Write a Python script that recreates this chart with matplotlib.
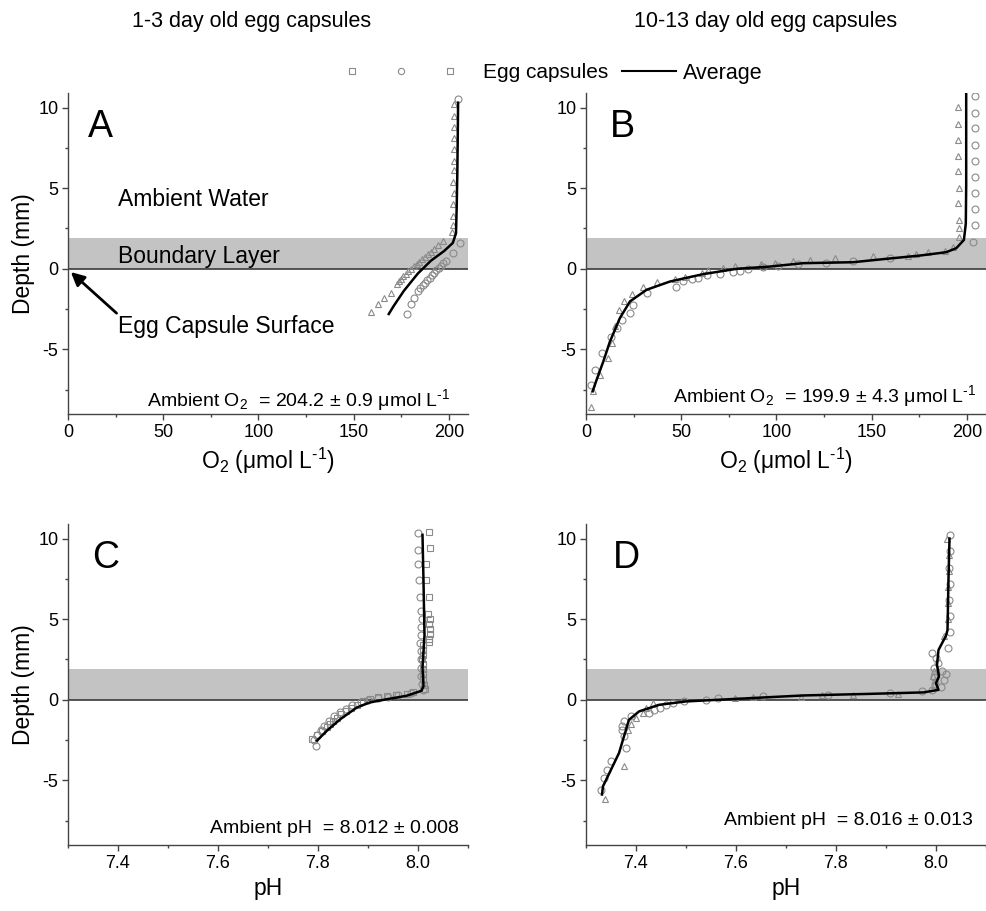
import matplotlib
matplotlib.use("Agg")
import matplotlib.pyplot as plt
from matplotlib.lines import Line2D
from matplotlib.legend_handler import HandlerTuple
from matplotlib.ticker import MultipleLocator

plt.rcParams["font.family"] = ["Liberation Sans", "DejaVu Sans"]
plt.rcParams["mathtext.fontset"] = "custom"
plt.rcParams["mathtext.rm"] = "Liberation Sans"
plt.rcParams["mathtext.it"] = "Liberation Sans:italic"
plt.rcParams["axes.unicode_minus"] = False

# ---- A: O2, 1-3 day old ----
a_tri_depth = [10.2, 9.5, 8.8, 8.1, 7.4, 6.7, 6.1, 5.4, 4.7, 4.0, 3.3, 2.7, 2.3,
               1.75, 1.45, 1.2, 1.05, 0.9, 0.75, 0.6, 0.45, 0.3, 0.15, 0.0, -0.15,
               -0.3, -0.45, -0.6, -0.75, -0.95, -1.5, -1.8, -2.2, -2.7]
a_tri_o2 = [202.8, 202.6, 202.7, 202.5, 202.6, 202.4, 202.5, 202.3, 202.4, 202.2, 202.3, 202.0, 201.6,
            197.0, 194.0, 192.0, 190.5, 189.0, 187.5, 186.0, 184.5, 183.0, 181.5, 180.0, 178.6,
            177.2, 176.0, 174.8, 173.8, 172.8, 169.5, 166.0, 162.6, 159.0]
a_cir_depth = [10.5, 1.6, 1.0, 0.5, 0.35, 0.2, 0.05, -0.1, -0.25, -0.4, -0.55, -0.7, -0.85,
               -1.0, -1.2, -1.37, -1.8, -2.2, -2.8]
a_cir_o2 = [205.0, 205.8, 202.2, 198.6, 197.0, 195.8, 194.6, 193.4, 192.2, 191.0, 189.8, 188.6, 187.5,
            186.4, 185.0, 183.6, 181.6, 180.0, 178.0]
a_avg_depth = [10.3, 8.0, 6.0, 4.0, 2.2, 1.6, 1.1, 0.5, -0.3, -1.37, -2.3, -2.8]
a_avg_o2 = [204.8, 204.6, 204.4, 204.1, 203.7, 202.0, 197.4, 190.5, 183.6, 176.3, 171.0, 168.4]

# ---- B: O2, 10-13 day old ----
b_tri_depth = [10.04, 9.0, 8.0, 7.0, 6.05, 5.04, 4.05, 3.0, 2.5, 2.0,
               1.38, 1.13, 1.07, 0.93, 0.82, 0.80, 0.66, 0.56, 0.49, 0.39, 0.29, 0.18, 0.08, -0.06,
               -0.23, -0.48, -0.64, -0.83, -1.1, -1.57, -2.02, -2.54, -3.57, -4.6, -5.53, -6.56,
               -7.55, -8.58]
b_tri_o2 = [195.3, 195.4, 195.3, 195.5, 195.4, 195.6, 195.5, 195.6, 195.9, 196.0,
            192.6, 188.3, 179.5, 173.4, 169.0, 150.7, 130.6, 117.5, 108.7, 99.1, 92.1, 78.1, 72.0, 64.1,
            60.7, 51.9, 46.7, 37.1, 30.1, 24.0, 19.9, 17.5, 15.2, 13.5, 11.7, 7.3,
            3.8, 2.5]
b_cir_depth = [10.7, 9.69, 8.70, 7.67, 6.70, 5.71, 4.68, 3.69, 2.72, 1.69,
               0.70, 0.49, 0.35, 0.29, 0.20, 0.10, -0.02, -0.12, -0.21, -0.33, -0.41, -0.58,
               -0.64, -0.74, -1.10, -1.51, -2.23, -2.75, -3.16, -3.68, -4.25, -5.22, -6.25, -7.18]
b_cir_o2 = [204.0, 204.1, 204.0, 204.2, 204.1, 204.0, 204.2, 204.1, 204.0, 203.2,
            159.4, 140.2, 126.2, 111.3, 100.8, 93.0, 85.1, 80.8, 77.3, 70.3, 63.3, 58.9,
            55.4, 51.0, 47.5, 31.8, 24.8, 23.1, 18.7, 16.1, 12.9, 8.2, 4.7, 2.5]
b_avg_depth = [10.9, 5.2, 2.8, 1.79, 1.28, 1.03, 0.82, 0.62, 0.41, 0.35, 0.14, 0.0, -0.33,
               -0.79, -1.3, -2.02, -3.05, -4.5, -5.74, -6.87, -7.59]
b_avg_o2 = [199.6, 199.6, 199.4, 198.4, 194.4, 189.1, 175.1, 157.7, 140.2, 114.0, 96.5, 79.0, 61.5,
            44.0, 31.8, 23.1, 17.8, 12.6, 9.1, 5.6, 3.5]

# ---- C: pH, 1-3 day old ----
c_sq_depth = [10.39, 9.4, 8.44, 7.41, 6.4, 5.3, 5.0, 4.7, 4.4, 4.1, 3.8, 3.6,
              3.4, 3.1, 2.8, 2.5, 2.2, 1.9, 1.6, 1.3, 0.9, 0.68,
              0.5, 0.39, 0.3, 0.25, 0.15, 0.04, -0.1, -0.31, -0.5, -0.7, -0.88, -1.1,
              -1.3, -1.5, -1.71, -1.95, -2.2, -2.43]
c_sq_ph = [8.021, 8.024, 8.016, 8.016, 8.021, 8.020, 8.024, 8.022, 8.024, 8.023, 8.022, 8.021,
           8.010, 8.009, 8.010, 8.008, 8.009, 8.010, 8.009, 8.010, 8.012, 8.014,
           7.990, 7.977, 7.955, 7.938, 7.920, 7.904, 7.890, 7.878, 7.866, 7.855, 7.845, 7.837,
           7.830, 7.824, 7.818, 7.808, 7.798, 7.788]
c_cir_depth = [10.33, 9.3, 8.44, 7.41, 6.4, 5.5, 5.0, 4.5, 4.0, 3.5, 3.0, 2.5, 2.0, 1.5, 1.0, 0.6,
               0.45, 0.3, 0.2, 0.1, 0.0, -0.15, -0.35, -0.55, -0.75, -1.0, -1.3, -1.6, -1.9,
               -2.2, -2.5, -2.84]
c_cir_ph = [8.000, 8.000, 7.999, 8.002, 8.004, 8.006, 8.008, 8.006, 8.005, 8.004, 8.005, 8.005,
            8.006, 8.006, 8.007, 8.009,
            7.985, 7.960, 7.940, 7.920, 7.900, 7.885, 7.868, 7.855, 7.843, 7.832, 7.822, 7.812,
            7.805, 7.797, 7.792, 7.795]
c_avg_depth = [10.23, 7.35, 4.0, 2.0, 0.86, 0.56, 0.25, 0.04, -0.16, -0.47, -1.19, -1.91, -2.53]
c_avg_ph = [8.009, 8.011, 8.013, 8.009, 8.011, 8.007, 7.977, 7.938, 7.904, 7.878, 7.845, 7.818, 7.798]

# ---- D: pH, 10-13 day old ----
d_cir_depth = [10.2, 9.2, 8.2, 7.2, 6.2, 5.2, 4.23, 3.2, 2.89, 2.6, 2.3, 2.0, 1.8, 1.6, 1.4,
               1.2, 1.0, 0.8, 0.6, 0.52, 0.41, 0.31, 0.25, 0.1, 0.0, -0.1, -0.2, -0.35, -0.5,
               -0.65, -0.8, -1.03, -1.34, -1.6, -1.86, -2.27, -2.99, -3.81, -4.33, -4.84, -5.57]
d_cir_ph = [8.028, 8.028, 8.027, 8.028, 8.027, 8.028, 8.028, 8.023, 7.991, 8.000, 8.004, 7.995,
            8.012, 8.020, 7.995, 8.015, 7.998, 8.010, 7.992, 7.971, 7.908, 7.784, 7.653, 7.563,
            7.540, 7.496, 7.473, 7.460, 7.447, 7.436, 7.426, 7.389, 7.376, 7.372, 7.372, 7.376,
            7.379, 7.349, 7.342, 7.336, 7.329]
d_tri_depth = [10.0, 9.0, 8.0, 7.0, 6.0, 5.0, 3.96, 1.8, 1.5, 1.2, 0.9, 0.37, 0.31, 0.31, 0.2,
               0.2, 0.1, -0.2, -0.5, -0.8, -1.1, -1.5, -1.86, -4.12, -6.14]
d_tri_ph = [8.021, 8.025, 8.025, 8.024, 8.023, 8.024, 8.015, 7.995, 7.994, 7.997, 7.996, 7.924,
            7.834, 7.771, 7.730, 7.633, 7.597, 7.433, 7.420, 7.413, 7.400, 7.390, 7.383, 7.376,
            7.338]
d_avg_depth = [10.0, 7.5, 4.33, 3.98, 3.09, 2.16, 1.45, 1.03, 0.62, 0.46, 0.37, 0.27, 0.06, -0.1,
               -0.31, -0.72, -1.24, -2.47, -3.3, -5.36, -5.87]
d_avg_ph = [8.027, 8.025, 8.023, 8.020, 8.005, 8.002, 8.006, 8.000, 8.005, 7.975, 7.868, 7.734,
            7.600, 7.500, 7.446, 7.406, 7.386, 7.374, 7.366, 7.334, 7.332]

boundary_top = 1.9
ambient = ["Ambient O$_2$  = 204.2 ± 0.9 μmol L$^{\u2010 1}$",
           "Ambient O$_2$  = 199.9 ± 4.3 μmol L$^{\u2010 1}$",
           "Ambient pH  = 8.012 ± 0.008",
           "Ambient pH  = 8.016 ± 0.013"]
letters = ["A", "B", "C", "D"]

grey = "#8a8a8a"
mk = dict(linestyle="none", mfc="none", mec=grey, mew=0.8, ms=5)

fig = plt.figure(figsize=(9.87, 9.11), dpi=100)
W, H = 987, 911
boxes = [(68, 414), (586, 414), (68, 845), (586, 845)]
axes = []
for (x0, yb) in boxes:
    axes.append(fig.add_axes([x0 / W, 1 - yb / H, 400 / W, 321 / H]))
axA, axB, axC, axD = axes

for i, ax in enumerate(axes):
    ax.axhspan(0, boundary_top, color="#c3c3c3", lw=0, zorder=0)
    ax.axhline(0, color="#3a3a3a", lw=1.2, zorder=1)
    ax.set_ylim(-9, 10.9)
    ax.yaxis.set_major_locator(MultipleLocator(5))
    ax.yaxis.set_minor_locator(MultipleLocator(2.5))
    for s in ["top", "right"]:
        ax.spines[s].set_visible(False)
    for s in ["left", "bottom"]:
        ax.spines[s].set_color("#444444")
        ax.spines[s].set_linewidth(1.0)
    ax.tick_params(which="major", direction="out", length=4, width=1, color="#444444",
                   labelsize=13, pad=3)
    ax.tick_params(which="minor", direction="out", length=2.5, width=1, color="#444444")
    if i < 2:
        ax.set_xlim(0, 210)
        ax.xaxis.set_major_locator(MultipleLocator(50))
        ax.xaxis.set_minor_locator(MultipleLocator(25))
        ax.set_xlabel("O$_2$ (μmol L$^{\u2010 1}$)", fontsize=16.5, labelpad=4)
    else:
        ax.set_xlim(7.3, 8.1)
        ax.set_xticks([7.4, 7.6, 7.8, 8.0])
        ax.set_xticklabels(["7.4", "7.6", "7.8", "8.0"])
        ax.xaxis.set_minor_locator(MultipleLocator(0.1))
        ax.set_xlabel("pH", fontsize=16.5, labelpad=4)
    if i % 2 == 0:
        ax.set_ylabel("Depth (mm)", fontsize=16.5, labelpad=2)

# panel A
axA.plot(a_tri_o2, a_tri_depth, marker="^", **mk)
axA.plot(a_cir_o2, a_cir_depth, marker="o", **mk)
axA.plot(a_avg_o2, a_avg_depth, color="black", lw=1.8)
# panel B
axB.plot(b_tri_o2, b_tri_depth, marker="^", **mk)
axB.plot(b_cir_o2, b_cir_depth, marker="o", **mk)
axB.plot(b_avg_o2, b_avg_depth, color="black", lw=1.8)
# panel C
axC.plot(c_cir_ph, c_cir_depth, marker="o", **mk)
axC.plot(c_sq_ph, c_sq_depth, marker="s", **mk)
axC.plot(c_avg_ph, c_avg_depth, color="black", lw=1.8)
# panel D
axD.plot(d_tri_ph, d_tri_depth, marker="^", **mk)
axD.plot(d_cir_ph, d_cir_depth, marker="o", **mk)
axD.plot(d_avg_ph, d_avg_depth, color="black", lw=1.8)

letter_pos = [(0.05, 0.893), (0.06, 0.895), (0.06, 0.893), (0.067, 0.895)]
amb_pos = [(0.957, 0.025), (0.975, 0.038), (0.977, 0.038), (0.967, 0.062)]
for ax, lt, (lx, ly), txt, (tx, ty) in zip(axes, letters, letter_pos, ambient, amb_pos):
    ax.text(lx, ly, lt, transform=ax.transAxes, fontsize=27, ha="left", va="center")
    ax.text(tx, ty, txt, transform=ax.transAxes, fontsize=14, ha="right", va="baseline")

axA.text(26.5, 3.91, "Ambient Water", fontsize=16.5, va="baseline")
axA.text(26.5, 0.35, "Boundary Layer", fontsize=16.5, va="baseline")
axA.text(26.5, -3.96, "Egg Capsule Surface", fontsize=16.5, va="baseline")
axA.annotate("", xy=(1.5, -0.2), xytext=(25.5, -2.75),
             arrowprops=dict(arrowstyle="-|>", color="black", lw=2, mutation_scale=20,
                             shrinkA=0, shrinkB=0))

fig.text(252 / W, 1 - 22 / H, "1-3 day old egg capsules", fontsize=15.5,
         ha="center", va="center")
fig.text(766 / W, 1 - 22 / H, "10-13 day old egg capsules", fontsize=15.5,
         ha="center", va="center")

# legend
mk_leg = {k: v for k, v in mk.items() if k != "ms"}
sq = Line2D([], [], marker="s", ms=4.5, **mk_leg)
ci = Line2D([], [], marker="o", ms=4.5, **mk_leg)
avg = Line2D([], [], color="black", lw=1.5)
fig.legend([(sq, ci, sq)], ["Egg capsules"], handler_map={tuple: HandlerTuple(ndivide=None, pad=0)},
           loc="center left", bbox_to_anchor=(327 / W, 1 - 73 / H), frameon=False,
           fontsize=15, handlelength=7.1, handletextpad=0.4, borderpad=0, borderaxespad=0)
fig.legend([avg], ["Average"], loc="center left", bbox_to_anchor=(622 / W, 1 - 73 / H),
           frameon=False, fontsize=15.5, handlelength=2.5, handletextpad=0.35,
           borderpad=0, borderaxespad=0)

fig.savefig("out.png", dpi=100)
